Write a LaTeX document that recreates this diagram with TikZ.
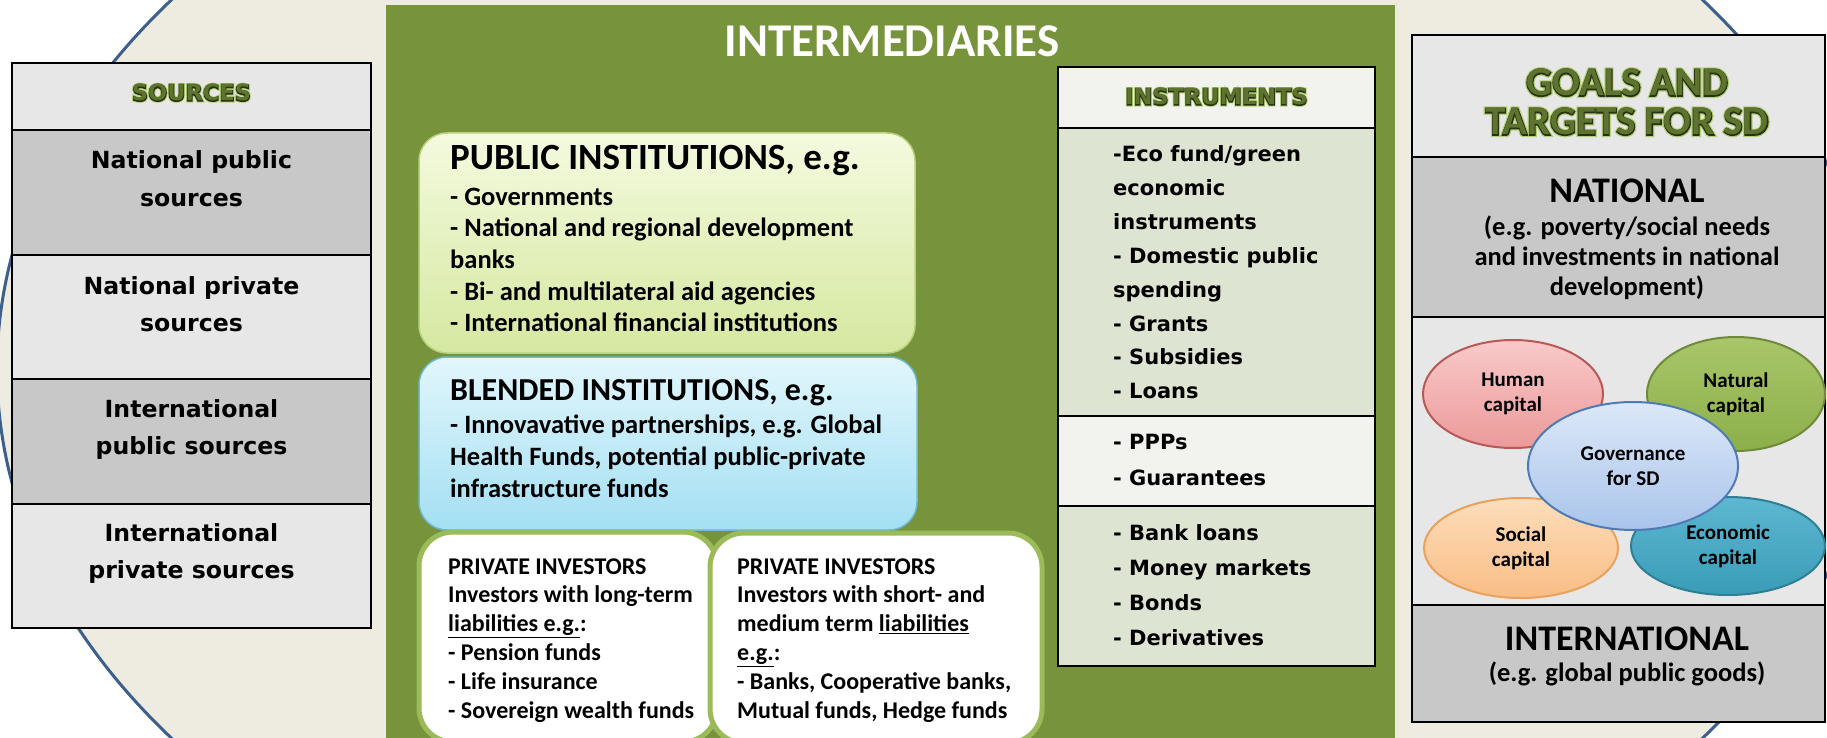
\documentclass[tikz,border=0pt]{standalone}
\usepackage{fontspec}
\setmainfont{Carlito}
\newfontfamily\vfont{DejaVu Sans}
\newfontfamily\cglowA{Carlito Bold}[FakeBold=10]
\newfontfamily\cglowB{Carlito Bold}[FakeBold=4]
\newfontfamily\cglowF{Carlito Bold}
\newfontfamily\dglowA{DejaVu Sans Bold}[FakeBold=14]
\newfontfamily\dglowB{DejaVu Sans Bold}[FakeBold=6]
\newfontfamily\dglowF{DejaVu Sans Bold}
\usetikzlibrary{shapes.geometric}
\newcommand{\linesL}[1]{\begin{tabular}[t]{@{}l@{}}#1\end{tabular}}
\newcommand{\linesC}[1]{\begin{tabular}[t]{@{}c@{}}#1\end{tabular}}
\newcommand{\glowC}[1]{\rlap{\cglowA\textcolor{glowg}{#1}}\rlap{\cglowB\textcolor{glowd}{#1}}{\cglowF\textcolor{glowt}{#1}}}
\newcommand{\glowD}[1]{\rlap{\dglowA\textcolor{glowg}{#1}}\rlap{\dglowB\textcolor{glowd}{#1}}{\dglowF\textcolor{glowt}{#1}}}
\definecolor{bgtan}{HTML}{EEECE1}
\definecolor{bgline}{HTML}{3C5F8C}
\definecolor{intgreen}{HTML}{77933C}
\definecolor{rowlight}{HTML}{E7E7E7}
\definecolor{rowdark}{HTML}{C8C8C8}
\definecolor{inslight}{HTML}{F2F3EE}
\definecolor{insdark}{HTML}{DDE4D1}
\definecolor{pubtop}{HTML}{F4FADF}
\definecolor{pubbot}{HTML}{D5E8A0}
\definecolor{publine}{HTML}{B9D27E}
\definecolor{bletop}{HTML}{E2F6FC}
\definecolor{blebot}{HTML}{A3DFF3}
\definecolor{bleline}{HTML}{6FB9CF}
\definecolor{privline}{HTML}{9BBB59}
\definecolor{glowg}{HTML}{B4CF7A}
\definecolor{glowd}{HTML}{27330F}
\definecolor{glowt}{HTML}{5F7330}
\definecolor{humtop}{HTML}{F9C9C9}
\definecolor{humbot}{HTML}{EC9A9A}
\definecolor{humline}{HTML}{B65A58}
\definecolor{nattop}{HTML}{A9C66A}
\definecolor{natbot}{HTML}{8CAF4A}
\definecolor{natline}{HTML}{6E8A3A}
\definecolor{govtop}{HTML}{DCE8F8}
\definecolor{govbot}{HTML}{A9C4EB}
\definecolor{govline}{HTML}{4F7BB5}
\definecolor{soctop}{HTML}{FDDDBB}
\definecolor{socbot}{HTML}{F9BD85}
\definecolor{socline}{HTML}{E9A25E}
\definecolor{ecotop}{HTML}{5DB7D0}
\definecolor{ecobot}{HTML}{3A9CB8}
\definecolor{ecoline}{HTML}{2E7F96}
\begin{document}
\begin{tikzpicture}[x=1pt,y=-1pt,
  cell/.style={draw=black, line width=2pt, anchor=north west, inner sep=0pt, outer sep=0pt},
  srctext/.style={anchor=base, inner sep=0pt, font=\vfont\bfseries\fontsize{23.6}{37}\selectfont},
  instext/.style={anchor=base west, inner sep=0pt, font=\vfont\bfseries\fontsize{21}{33.8}\selectfont},
  glowhead/.style={anchor=base, inner sep=0pt},
  goaltext/.style={anchor=base, inner sep=0pt, font=\bfseries\fontsize{26.5}{30}\selectfont},
  bigtext/.style={anchor=base, inner sep=0pt, font=\bfseries\fontsize{36}{40}\selectfont},
  instbox/.style={anchor=north west, inner sep=0pt, outer sep=0pt, rounded corners=28pt},
  privbox/.style={anchor=north west, inner sep=0pt, outer sep=0pt, rounded corners=34pt, fill=white, draw=privline, line width=5pt},
  bodytext/.style={anchor=base west, inner sep=0pt, font=\bfseries\fontsize{26.5}{31.7}\selectfont},
  privtext/.style={anchor=base west, inner sep=0pt, font=\bfseries\fontsize{24}{28.8}\selectfont},
  capell/.style={ellipse, inner sep=0pt, line width=2pt, align=center, font=\bfseries\fontsize{21}{25}\selectfont}
]
\useasboundingbox (0,0) rectangle (1827,738);
\clip (0,0) rectangle (1827,738);
\fill[white] (0,0) rectangle (1827,738);
% background ellipse
\draw[fill=bgtan, draw=bgline, line width=3pt] (937,369) ellipse [x radius=940, y radius=636];

% ---------------- SOURCES ----------------
\node[cell, fill=rowlight, minimum width=359pt, minimum height=67pt] (srchead) at (12,63) {};
\node[cell, fill=rowdark, minimum width=359pt, minimum height=124.5pt] (src1) at (12,130) {};
\node[cell, fill=rowlight, minimum width=359pt, minimum height=124.5pt] (src2) at (12,254.5) {};
\node[cell, fill=rowdark, minimum width=359pt, minimum height=124.5pt] (src3) at (12,379) {};
\node[cell, fill=rowlight, minimum width=359pt, minimum height=124.5pt] (src4) at (12,503.5) {};
\node[glowhead, font=\fontsize{22.5}{26}\selectfont] (srcheadt) at (191.5,101) {\glowD{SOURCES}};
\node[srctext] (src1t) at (191.5,169) {\linesC{National public\\sources}};
\node[srctext] (src2t) at (191.5,294) {\linesC{National private\\sources}};
\node[srctext] (src3t) at (191.5,417) {\linesC{International\\public sources}};
\node[srctext] (src4t) at (191.5,541) {\linesC{International\\private sources}};

% ---------------- INTERMEDIARIES ----------------
\fill[intgreen] (386,5) rectangle (1395,745);
\node[anchor=base, inner sep=0pt, text=white, font=\bfseries\fontsize{47}{56}\selectfont] (intert) at (892,57) {INTERMEDIARIES};

\node[instbox, top color=pubtop, bottom color=pubbot, draw=publine, line width=1.5pt, minimum width=496pt, minimum height=220pt] (pub) at (419,133) {};
\node[anchor=base west, inner sep=0pt, font=\bfseries\fontsize{37}{40}\selectfont] (pubt) at (450,170) {PUBLIC INSTITUTIONS, e.g.};
\node[bodytext] (pubb) at (450,205) {\linesL{- Governments\\- National and regional development\\banks\\- Bi- and multilateral aid agencies\\- International financial institutions}};

\node[instbox, top color=bletop, bottom color=blebot, draw=bleline, line width=1.5pt, minimum width=498pt, minimum height=173pt] (ble) at (419,357) {};
\node[anchor=base west, inner sep=0pt, font=\bfseries\fontsize{32}{36}\selectfont] (blet) at (450,400) {BLENDED INSTITUTIONS, e.g.};
\node[bodytext, font=\bfseries\fontsize{26.5}{32}\selectfont] (bleb) at (450,433) {\linesL{- Innovavative partnerships, e.g. Global\\Health Funds, potential public-private\\infrastructure funds}};

\node[privbox, minimum width=298pt, minimum height=210pt] (priv1) at (419,532) {};
\node[privbox, minimum width=332pt, minimum height=210pt] (priv2) at (710,533) {};
\node[privtext] (priv1t) at (448,574) {\linesL{PRIVATE INVESTORS\\Investors with long-term\\\underline{liabilities e.g.}:\\- Pension funds\\- Life insurance\\- Sovereign wealth funds}};
\node[privtext] (priv2t) at (737,574) {\linesL{PRIVATE INVESTORS\\Investors with short- and\\medium term \underline{liabilities}\\\underline{e.g.}:\\- Banks, Cooperative banks,\\Mutual funds, Hedge funds}};

% ---------------- INSTRUMENTS ----------------
\node[cell, fill=inslight, minimum width=317pt, minimum height=61pt] (inshead) at (1058,67) {};
\node[cell, fill=insdark, minimum width=317pt, minimum height=288pt] (ins1) at (1058,128) {};
\node[cell, fill=inslight, minimum width=317pt, minimum height=90pt] (ins2) at (1058,416) {};
\node[cell, fill=insdark, minimum width=317pt, minimum height=160pt] (ins3) at (1058,506) {};
\node[glowhead, font=\fontsize{22.5}{26}\selectfont] (insheadt) at (1216.5,105) {\glowD{INSTRUMENTS}};
\node[instext] (ins1t) at (1113,162) {\linesL{-Eco fund/green\\economic\\instruments\\- Domestic public\\spending\\- Grants\\- Subsidies\\- Loans}};
\node[instext, font=\vfont\bfseries\fontsize{21}{36}\selectfont] (ins2t) at (1113,449) {\linesL{- PPPs\\- Guarantees}};
\node[instext, font=\vfont\bfseries\fontsize{21}{35}\selectfont] (ins3t) at (1113,540) {\linesL{- Bank loans\\- Money markets\\- Bonds\\- Derivatives}};

% ---------------- GOALS ----------------
\node[cell, fill=rowlight, minimum width=413pt, minimum height=122pt] (goalhead) at (1412,35) {};
\node[cell, fill=rowdark, minimum width=413pt, minimum height=160pt] (goalnat) at (1412,157) {};
\node[cell, fill=rowlight, minimum width=413pt, minimum height=288pt] (goalcap) at (1412,317) {};
\node[cell, fill=rowdark, minimum width=413pt, minimum height=117pt] (goalint) at (1412,605) {};
\node[glowhead, font=\fontsize{41}{39}\selectfont] (goalheadt) at (1627,96) {\linesC{\glowC{GOALS AND}\\\glowC{TARGETS FOR SD}}};
\node[bigtext] (natt) at (1627,202) {NATIONAL};
\node[goaltext] (natsub) at (1627,235) {\linesC{(e.g. poverty/social needs\\and investments in national\\development)}};
\node[bigtext] (intt) at (1627,650) {INTERNATIONAL};
\node[goaltext] (intsub) at (1627,681) {(e.g. global public goods)};

% capitals
\node[capell, top color=humtop, bottom color=humbot, draw=humline, minimum width=180pt, minimum height=108pt] (human) at (1513,394) {Human\\capital};
\node[capell, top color=nattop, bottom color=natbot, draw=natline, minimum width=178pt, minimum height=114pt] (natural) at (1736,394) {Natural\\capital};
\node[capell, top color=soctop, bottom color=socbot, draw=socline, minimum width=194pt, minimum height=100pt] (social) at (1521,548) {Social\\capital};
\node[capell, top color=ecotop, bottom color=ecobot, draw=ecoline, minimum width=194pt, minimum height=98pt] (economic) at (1728,546) {Economic\\capital};
\node[capell, top color=govtop, bottom color=govbot, draw=govline, minimum width=210pt, minimum height=128pt] (gov) at (1633,466) {Governance\\for SD};
\end{tikzpicture}
\end{document}
